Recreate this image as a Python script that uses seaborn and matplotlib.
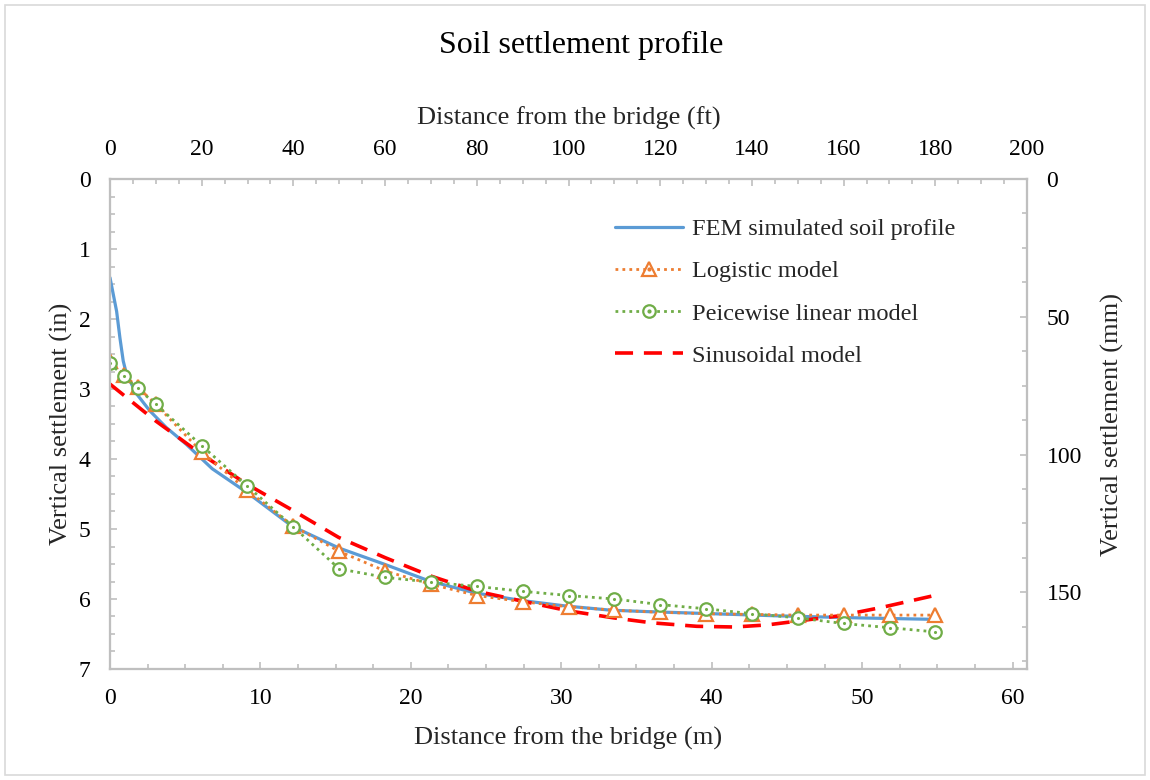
import matplotlib
matplotlib.use("Agg")
import matplotlib.pyplot as plt
import seaborn as sns
from matplotlib.ticker import MultipleLocator
from matplotlib.patches import Rectangle
from matplotlib.legend_handler import HandlerTuple

# FEM simulated soil profile (distance in m, settlement in in)
FEM_X = [0, 0.44, 0.66, 0.88, 1.1, 1.77, 2.64, 3.74, 5.07, 6.8, 9.25, 12.1,
         15.2, 18.2, 21.2, 24.2, 27.3, 30.3, 33.3, 35.7, 40.0, 44.3, 49.8, 54.6]
FEM_Y = [1.41, 1.89, 2.27, 2.6, 2.79, 3.07, 3.31, 3.55, 3.79, 4.14, 4.5, 4.96,
         5.27, 5.5, 5.74, 5.91, 6.02, 6.1, 6.16, 6.18, 6.21, 6.24, 6.27, 6.29]

# model points (every 10 ft, plus 3 ft and 6 ft near the bridge), in m
MODEL_X = [0, 0.91, 1.83, 3.05, 6.10, 9.14, 12.19, 15.24, 18.29, 21.34, 24.38,
           27.43, 30.48, 33.53, 36.58, 39.62, 42.67, 45.72, 48.77, 51.82, 54.86]
LOGISTIC_Y = [2.60, 2.80, 2.97, 3.22, 3.90, 4.45, 4.96, 5.32, 5.60, 5.79, 5.95,
              6.04, 6.11, 6.16, 6.19, 6.21, 6.22, 6.23, 6.23, 6.23, 6.23]
PIECEWISE_Y = [2.63, 2.82, 2.99, 3.22, 3.81, 4.39, 4.97, 5.57, 5.69, 5.76, 5.82,
               5.89, 5.95, 6.00, 6.08, 6.14, 6.21, 6.27, 6.35, 6.41, 6.47]

# sinusoidal model
SIN_X = [0, 3, 6, 9.1, 12.2, 15.2, 18.3, 21.3, 24.4, 27.4, 30.5, 33.5, 36.0,
         39.0, 41.5, 43.7, 45.9, 48.5, 51.3, 54.6]
SIN_Y = [2.93, 3.45, 3.92, 4.36, 4.74, 5.12, 5.41, 5.67, 5.89, 6.03, 6.17, 6.27,
         6.34, 6.39, 6.40, 6.37, 6.31, 6.24, 6.12, 5.96]

BLUE = "#5B9BD5"
ORANGE = "#ED7D31"
GREEN = "#70AD47"
RED = "#FF0000"
GREY = "#BFBFBF"

sns.set_theme(style="white")
plt.rcParams["font.family"] = ["Liberation Serif", "DejaVu Serif"]

W, H = 1150, 780
fig = plt.figure(figsize=(W / 100, H / 100), dpi=100)
fig.patches.append(Rectangle((5 / W, 5 / H), 1 - 10 / W, 1 - 10 / H, transform=fig.transFigure,
                             fill=False, edgecolor="#D9D9D9", linewidth=1.2))

L, R, T, B = 110, 1027, 179, 669
ax = fig.add_axes([L / W, 1 - B / H, (R - L) / W, (B - T) / H])

sns.lineplot(x=FEM_X, y=FEM_Y, ax=ax, sort=False, estimator=None, color=BLUE,
             linewidth=2.3, zorder=3)
sns.lineplot(x=MODEL_X, y=LOGISTIC_Y, ax=ax, sort=False, estimator=None, color=ORANGE,
             linewidth=2.0, linestyle=(0, (1, 1.5)), marker="^", markersize=10,
             markerfacecolor="white", markeredgecolor=ORANGE, markeredgewidth=1.6, zorder=4)
sns.lineplot(x=MODEL_X, y=PIECEWISE_Y, ax=ax, sort=False, estimator=None, color=GREEN,
             linewidth=2.0, linestyle=(0, (1, 1.5)), marker="o", markersize=9,
             markerfacecolor="white", markeredgecolor=GREEN, markeredgewidth=1.6, zorder=5)
sns.scatterplot(x=MODEL_X, y=PIECEWISE_Y, ax=ax, color=GREEN, s=5, linewidth=0, zorder=6)
sns.lineplot(x=SIN_X, y=SIN_Y, ax=ax, sort=False, estimator=None, color=RED,
             linewidth=2.6, linestyle=(0, (5, 3)), zorder=3)

lines = ax.get_lines()
h_fem, h_log, h_pw, h_sin = lines[0], lines[1], lines[2], lines[3]
dot = plt.Line2D([], [], linestyle="none", marker="o", markersize=2, color=GREEN)
dot2 = plt.Line2D([], [], linestyle="none", marker="o", markersize=2, color=ORANGE)

ax.set_xlim(0, 60.96)
ax.set_ylim(7, 0)
ax.xaxis.set_major_locator(MultipleLocator(10))
ax.xaxis.set_minor_locator(MultipleLocator(2.5))
ax.yaxis.set_major_locator(MultipleLocator(1))
ax.yaxis.set_minor_locator(MultipleLocator(0.25))
ax.set_xlabel("Distance from the bridge (m)", fontsize=19, labelpad=12)
ax.set_ylabel("Vertical settlement (in)", fontsize=19, labelpad=4)

ax_top = ax.twiny()
ax_top.set_xlim(0, 200)
ax_top.xaxis.set_major_locator(MultipleLocator(20))
ax_top.xaxis.set_minor_locator(MultipleLocator(5))
ax_top.set_xlabel("Distance from the bridge (ft)", fontsize=19, labelpad=10)

ax_right = ax.twinx()
ax_right.set_ylim(177.8, 0)
ax_right.yaxis.set_major_locator(MultipleLocator(50))
ax_right.yaxis.set_minor_locator(MultipleLocator(12.5))
ax_right.set_ylabel("Vertical settlement (mm)", fontsize=19, labelpad=14)

for a in (ax, ax_top, ax_right):
    for s in a.spines.values():
        s.set_color(GREY)
        s.set_linewidth(1.5)
    a.tick_params(which="both", direction="in", color=GREY, width=1.2,
                  labelsize=17, labelcolor="black", pad=14)
    a.tick_params(which="major", length=5)
    a.tick_params(which="minor", length=3.5)
    a.grid(False)

ax.tick_params(axis="x", which="both", top=False, bottom=True)
ax.tick_params(axis="y", which="both", right=False, left=True)

ax.legend([h_fem, (h_log, dot2), (h_pw, dot), h_sin],
          ["FEM simulated soil profile", "Logistic model", "Peicewise linear model",
           "Sinusoidal model"],
          handler_map={tuple: HandlerTuple(ndivide=1, pad=0)},
          loc="upper left", bbox_to_anchor=((615 - L) / (R - L), 0.92),
          frameon=False, fontsize=17.6, handlelength=2.8, handletextpad=0.33,
          labelspacing=0.82, borderpad=0, borderaxespad=0)

fig.text(0.505, 1 - 45 / H, "Soil settlement profile", ha="center", va="center",
         fontsize=23, color="black")

fig.savefig("out.png", dpi=100)
